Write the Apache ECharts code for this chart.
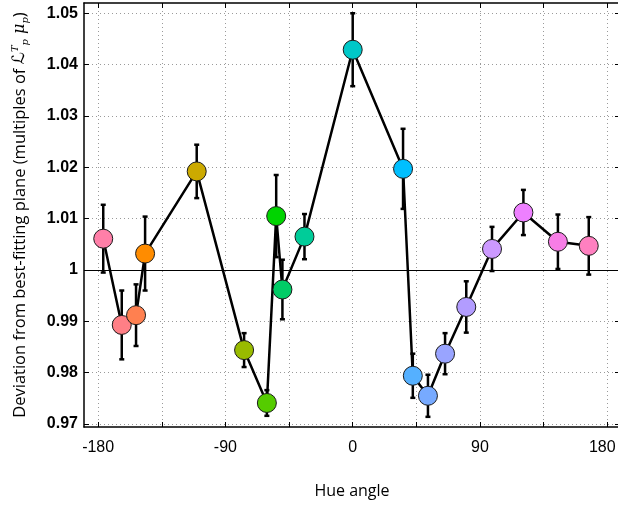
<!DOCTYPE html>
<html>
<head>
<meta charset="utf-8">
<script src="https://cdn.jsdelivr.net/npm/echarts@6/dist/echarts.min.js"></script>
<style>
  html, body { margin: 0; padding: 0; background: #fff; }
  #chart { width: 618px; height: 506px; }
</style>
</head>
<body>
<div id="chart"></div>
<script>
// Hue angle of each colour condition (degrees)
const hueAngles = [-176.4, -163.3, -153.2, -146.8, -110.3, -76.8, -60.7, -54.1, -49.7, -34.1,
                   0, 35.6, 42.5, 53.2, 65.3, 80.3, 98.5, 120.7, 145.1, 166.9];
// Deviation from the best-fitting plane
const deviations = [1.0061, 0.9893, 0.9912, 1.0032, 1.0192, 0.9844, 0.9741, 1.0105, 0.9962, 1.0065,
                    1.0429, 1.0197, 0.9794, 0.9755, 0.9837, 0.9928, 1.0041, 1.0112, 1.0055, 1.0047];
// Half-length of each error bar
const errors = [0.0066, 0.0067, 0.0060, 0.0072, 0.0052, 0.0033, 0.0025, 0.0080, 0.0058, 0.0044,
                0.0071, 0.0078, 0.0043, 0.0041, 0.0040, 0.0050, 0.0043, 0.0044, 0.0053, 0.0056];
// Marker colour of each hue
const hueColors = ['#ff7fa8', '#ff7f86', '#ff8050', '#ff8c00', '#ccaa00', '#99bb00', '#55cc00', '#00d400',
                   '#00cc66', '#00cc99', '#00c8c8', '#00bfff', '#55b0ff', '#77aaff', '#99a4ff', '#b29cff',
                   '#cc99ff', '#ee80ff', '#f77de6', '#ff80c0'];

// Axis ticks and labels
const xTickValues = [-180, -135, -90, -45, 0, 45, 90, 135, 180];
const xLabelValues = [-180, -90, 0, 90, 180];
const yTickValues = [0.97, 0.98, 0.99, 1.0, 1.01, 1.02, 1.03, 1.04, 1.05];
const referenceLevel = 1;

const xMin = -190, xMax = 189;
const yMin = 0.96942, yMax = 1.0520;

const gridDots = { color: '#9a9a9a', width: 1, type: [1, 3] };
const frame = { color: '#000', width: 1.5 };

const pointData = hueAngles.map((h, i) => ({
  value: [h, deviations[i]],
  itemStyle: { color: hueColors[i] }
}));
const errorData = hueAngles.map((h, i) => [h, deviations[i] - errors[i], deviations[i] + errors[i]]);

function renderErrorBar(params, api) {
  const x = api.value(0);
  const lo = api.coord([x, api.value(1)]);
  const hi = api.coord([x, api.value(2)]);
  const cap = 2.5;
  const style = { stroke: '#000', lineWidth: 2.5 };
  return {
    type: 'group',
    children: [
      { type: 'line', shape: { x1: lo[0], y1: lo[1], x2: hi[0], y2: hi[1] }, style },
      { type: 'line', shape: { x1: lo[0] - cap, y1: lo[1], x2: lo[0] + cap, y2: lo[1] }, style },
      { type: 'line', shape: { x1: hi[0] - cap, y1: hi[1], x2: hi[0] + cap, y2: hi[1] }, style }
    ]
  };
}

const chart = echarts.init(document.getElementById('chart'), null, { renderer: 'canvas' });

chart.setOption({
  animation: false,
  backgroundColor: '#fff',
  grid: { left: 84, top: 3, width: 536, height: 424, containLabel: false, outerBoundsMode: 'none' },
  xAxis: [
    {
      type: 'value', min: xMin, max: xMax, position: 'bottom',
      axisLine: { show: true, onZero: false, lineStyle: frame },
      axisTick: { show: true, inside: true, length: 5, customValues: xTickValues, lineStyle: { color: '#000', width: 1 } },
      axisLabel: {
        customValues: xLabelValues, color: '#000', fontSize: 16, fontFamily: 'Liberation Sans', margin: 13,
        // the last label is nudged left so it stays inside the canvas
        formatter: v => (v === xLabelValues[xLabelValues.length - 1] ? '{edge|' + v + '}' : String(v)),
        rich: { edge: { fontSize: 16, fontFamily: 'Liberation Sans', color: '#000', padding: [0, 10, 0, 0] } }
      },
      splitLine: { show: true, lineStyle: gridDots },
      name: 'Hue angle', nameLocation: 'middle', nameGap: 56,
      nameTextStyle: { color: '#000', fontSize: 16, fontFamily: 'Open Sans' }
    },
    {
      type: 'value', min: xMin, max: xMax, position: 'top',
      axisLine: { show: true, onZero: false, lineStyle: frame },
      axisTick: { show: true, inside: true, length: 5, customValues: xTickValues, lineStyle: { color: '#000', width: 1 } },
      axisLabel: { show: false },
      splitLine: { show: false }
    }
  ],
  yAxis: [
    {
      type: 'value', min: yMin, max: yMax, position: 'left',
      axisLine: { show: true, onZero: false, lineStyle: frame },
      axisTick: { show: true, inside: true, length: 5, customValues: yTickValues, lineStyle: { color: '#000', width: 1 } },
      axisLabel: {
        customValues: yTickValues, color: '#000', fontSize: 16, fontWeight: 'bold',
        fontFamily: 'Liberation Sans', margin: 6,
        formatter: v => String(parseFloat(v.toFixed(2)))
      },
      splitLine: { show: true, lineStyle: gridDots },
      name: '{t|Deviation from best-fitting plane (multiples of }{m|ℒ}{sup|T}{sub|p}{g| μ}{sub|p}{t|)}',
      nameLocation: 'middle', nameGap: 54, nameRotate: 90,
      nameTextStyle: {
        color: '#000',
        rich: {
          t: { fontSize: 16.5, fontFamily: 'Open Sans', color: '#000' },
          m: { fontSize: 17, fontFamily: 'DejaVu Sans', color: '#000' },
          g: { fontSize: 16, fontFamily: 'DejaVu Serif', fontStyle: 'italic', color: '#000' },
          sup: { fontSize: 10, fontFamily: 'DejaVu Serif', fontStyle: 'italic', color: '#000', verticalAlign: 'top', lineHeight: 20 },
          sub: { fontSize: 10, fontFamily: 'DejaVu Serif', fontStyle: 'italic', color: '#000', verticalAlign: 'bottom', lineHeight: 20 }
        }
      }
    },
    {
      type: 'value', min: yMin, max: yMax, position: 'right',
      axisLine: { show: true, onZero: false, lineStyle: frame },
      axisTick: { show: true, inside: true, length: 5, customValues: yTickValues, lineStyle: { color: '#000', width: 1 } },
      axisLabel: { show: false },
      splitLine: { show: false }
    }
  ],
  series: [
    {
      type: 'line',
      data: hueAngles.map((h, i) => [h, deviations[i]]),
      showSymbol: false,
      lineStyle: { color: '#000', width: 2.5 },
      z: 2,
      markLine: {
        silent: true, symbol: 'none', label: { show: false },
        lineStyle: { color: '#000', width: 1, type: 'solid' },
        data: [{ yAxis: referenceLevel }]
      }
    },
    {
      type: 'custom',
      data: errorData,
      renderItem: renderErrorBar,
      encode: { x: 0, y: [1, 2] },
      z: 3
    },
    {
      type: 'scatter',
      data: pointData,
      symbol: 'circle',
      symbolSize: 19,
      itemStyle: { borderColor: '#1a1a1a', borderWidth: 1, opacity: 1 },
      z: 4
    }
  ]
});
</script>
</body>
</html>
